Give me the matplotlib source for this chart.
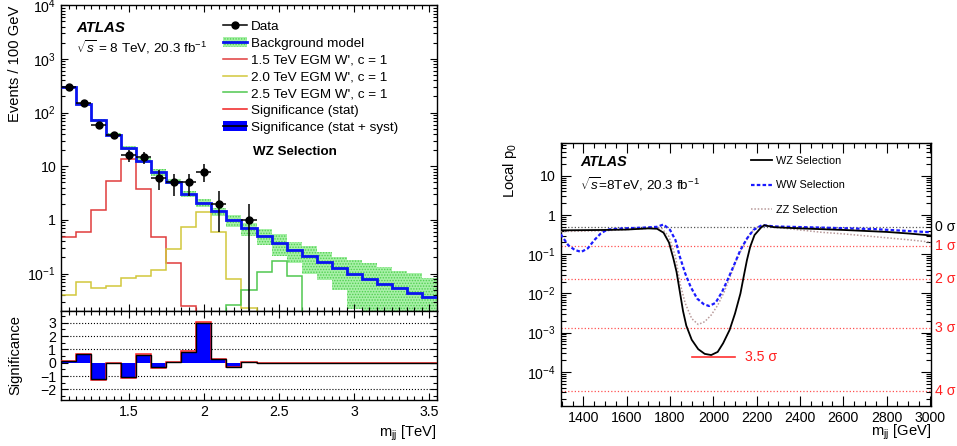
import numpy as np
import matplotlib
matplotlib.use('Agg')
import matplotlib.pyplot as plt
from matplotlib.lines import Line2D
from matplotlib.patches import Patch
from matplotlib.ticker import MultipleLocator, LogLocator, FuncFormatter, NullFormatter

plt.rcParams['font.family'] = ['Liberation Sans', 'DejaVu Sans']
plt.rcParams['mathtext.fontset'] = 'custom'
plt.rcParams['mathtext.rm'] = 'Liberation Sans'
plt.rcParams['mathtext.it'] = 'Liberation Sans:italic'
plt.rcParams['mathtext.bf'] = 'Liberation Sans:bold'
plt.rcParams['hatch.linewidth'] = 0.7
plt.rcParams['axes.linewidth'] = 1.0

# ---------------- left panel data (m_jj in TeV, 100 GeV bins) ----------------
bin_edges = [1.05, 1.15, 1.25, 1.35, 1.45, 1.55, 1.65, 1.75, 1.85, 1.95, 2.05, 2.15, 2.25,
             2.35, 2.45, 2.55, 2.65, 2.75, 2.85, 2.95, 3.05, 3.15, 3.25, 3.35, 3.45, 3.55]
data_mjj = [1.1, 1.2, 1.3, 1.4, 1.5, 1.6, 1.7, 1.8, 1.9, 2.0, 2.1, 2.2, 2.3]
data_counts = [300, 150, 60, 38, 16, 15, 6, 5, 5, 8, 2, 0, 1]
bkg_model = [300, 146, 72, 39, 22, 12.8, 7.7, 5.2, 3.1, 2.1, 1.44, 1.0, 0.70, 0.51, 0.377,
             0.275, 0.211, 0.166, 0.128, 0.10, 0.081, 0.065, 0.053, 0.044, 0.036]
bkg_rel_unc = [0.04, 0.05, 0.08, 0.07, 0.1, 0.1, 0.15, 0.1, 0.12, 0.18, 0.18, 0.26, 0.27,
               0.34, 0.43, 0.43, 0.53, 0.55, 0.62, 0.78, 0.95, 1.04, 1.14, 1.29, 1.29]
wprime_15 = [0.49, 0.6, 1.55, 5.4, 13.5, 3.8, 0.49, 0.155, 0.025, 0, 0, 0, 0,
             0, 0, 0, 0, 0, 0, 0, 0, 0, 0, 0, 0]
wprime_20 = [0.04, 0.069, 0.054, 0.06, 0.082, 0.091, 0.115, 0.29, 0.74, 1.41, 0.6, 0.08, 0.023,
             0, 0, 0, 0, 0, 0, 0, 0, 0, 0, 0, 0]
wprime_25 = [0, 0, 0, 0, 0, 0, 0, 0, 0, 0, 0, 0.026, 0.05,
             0.107, 0.17, 0.09, 0, 0, 0, 0, 0, 0, 0, 0, 0]
signif_syst = [0.12, 0.62, -1.22, 0.0, -1.05, 0.57, -0.35, 0.05, 0.82, 2.95, 0.25, -0.3, 0.05,
               0, 0, 0, 0, 0, 0, 0, 0, 0, 0, 0, 0]
signif_stat = [0.12, 0.67, -1.32, 0.0, -1.12, 0.62, -0.40, 0.05, 0.87, 3.05, 0.25, -0.33, 0.05,
               0, 0, 0, 0, 0, 0, 0, 0, 0, 0, 0, 0]

# ---------------- right panel data (m_jj in GeV, local p0) ----------------
wz_mjj = [1295, 1400, 1500, 1600, 1700, 1740, 1770, 1795, 1815, 1830, 1845, 1860, 1875, 1900,
          1930, 1960, 1990, 2020, 2045, 2075, 2100, 2125, 2140, 2155, 2170, 2190, 2220, 2235,
          2280, 2400, 2600, 2800, 2900, 3005]
wz_log_p0 = [-0.39, -0.385, -0.38, -0.37, -0.34, -0.35, -0.45, -0.70, -1.10, -1.45, -1.95, -2.45,
             -2.82, -3.18, -3.42, -3.54, -3.57, -3.49, -3.27, -2.93, -2.51, -2.0, -1.57, -1.15,
             -0.81, -0.51, -0.32, -0.26, -0.31, -0.34, -0.38, -0.43, -0.47, -0.52]
ww_mjj = [1295, 1330, 1360, 1390, 1420, 1450, 1480, 1510, 1580, 1680, 1740, 1770, 1800, 1825,
          1845, 1870, 1895, 1925, 1955, 1980, 2010, 2040, 2065, 2095, 2125, 2155, 2185, 2225,
          2280, 2500, 2750, 3005]
ww_log_p0 = [-0.49, -0.77, -0.89, -0.94, -0.85, -0.64, -0.47, -0.37, -0.34, -0.32, -0.30, -0.24,
             -0.38, -0.64, -1.06, -1.49, -1.83, -2.13, -2.27, -2.32, -2.24, -1.96, -1.66, -1.28,
             -0.89, -0.60, -0.38, -0.255, -0.29, -0.32, -0.36, -0.44]
zz_mjj = [1295, 1500, 1700, 1760, 1795, 1825, 1846, 1870, 1900, 1930, 1960, 1990, 2020, 2050,
          2080, 2110, 2140, 2170, 2200, 2230, 2300, 2400, 2500, 2600, 2700, 2800, 2900, 3005]
zz_log_p0 = [-0.42, -0.40, -0.34, -0.33, -0.55, -1.06, -1.74, -2.25, -2.64, -2.79, -2.72, -2.55,
             -2.30, -1.96, -1.53, -1.10, -0.77, -0.47, -0.31, -0.26, -0.32, -0.38, -0.44, -0.48,
             -0.53, -0.58, -0.63, -0.69]
sigma_levels = [0, 1, 2, 3, 4]
sigma_p0 = [0.5, 0.1587, 0.02275, 0.00135, 3.17e-5]
p0_35sigma = 2.33e-4
line_35sigma_mjj = [1900, 2100]

# ---------------- figure ----------------
W, H = 957, 446
fig = plt.figure(figsize=(W / 100, H / 100), dpi=100)

def frac(x0, y0, x1, y1):
    return [x0 / W, 1 - y1 / H, (x1 - x0) / W, (y1 - y0) / H]

ax1 = fig.add_axes(frac(61, 5.3, 437, 310.7))
ax2 = fig.add_axes(frac(61, 310.7, 437, 400))
ax3 = fig.add_axes(frac(560.7, 142.7, 931, 406))

def log_label(v, pos):
    e = int(round(np.log10(v)))
    if e == 0:
        return '1'
    if e == 1:
        return '10'
    return r'$10^{%d}$' % e

def style(ax, maj=5.0, mino=2.8):
    ax.tick_params(which='both', direction='in', top=True, right=True, width=0.8)
    ax.tick_params(which='major', length=maj, labelsize=10.2)
    ax.tick_params(which='minor', length=mino)

edges = np.array(bin_edges)
bkg = np.array(bkg_model)
unc = np.array(bkg_rel_unc)
band_hi = bkg * (1 + unc)
band_lo = np.maximum(bkg * (1 - unc), 1e-3)

# ---- top-left ----
ax1.set_yscale('log')
ax1.stairs(band_hi, edges, baseline=band_lo, fill=True, facecolor='#a8f0a8',
           hatch='......', edgecolor='#50d050', linewidth=0, zorder=1)
ax1.stairs(wprime_15, edges, baseline=None, color='#e03c3c', lw=1.1, zorder=2)
ax1.stairs(wprime_20, edges, baseline=None, color='#d2c83c', lw=1.1, zorder=2)
ax1.stairs(wprime_25, edges, baseline=None, color='#50c850', lw=1.1, zorder=2)
ax1.stairs(bkg, edges, baseline=None, color='#0a14f0', lw=2.0, zorder=3)
cnt = np.array(data_counts, dtype=float)
dx = np.array(data_mjj)
m = cnt > 0
ax1.errorbar(dx[m], cnt[m], yerr=np.sqrt(cnt[m]), xerr=0.05, fmt='o', color='black',
             ms=5, elinewidth=1.1, capsize=0, zorder=5)
ax1.set_xlim(1.05, 3.55)
ax1.set_ylim(0.0204, 1e4)
ax1.yaxis.set_major_locator(LogLocator(base=10, numticks=20))
ax1.yaxis.set_minor_locator(LogLocator(base=10, subs=np.arange(2, 10), numticks=20))
ax1.yaxis.set_major_formatter(FuncFormatter(log_label))
ax1.yaxis.set_minor_formatter(NullFormatter())
ax1.xaxis.set_major_locator(MultipleLocator(0.5))
ax1.xaxis.set_minor_locator(MultipleLocator(0.05))
ax1.tick_params(labelbottom=False)
style(ax1)
ax1.set_ylabel('Events / 100 GeV', fontsize=10.6, loc='top')
ax1.yaxis.set_label_coords(-0.104, 1.0)

ax1.text(0.04, 0.927, 'ATLAS', transform=ax1.transAxes, fontsize=10.8,
         fontweight='bold', fontstyle='italic', va='center', ha='left')
ax1.text(0.04, 0.862, r'$\sqrt{s}$ = 8 TeV, 20.3 fb$^{-1}$', transform=ax1.transAxes,
         fontsize=9.7, va='center', ha='left')
ax1.text(0.51, 0.520, 'WZ Selection', transform=ax1.transAxes, fontsize=9.6,
         fontweight='bold', va='center', ha='left')

h_data = Line2D([0], [0], color='black', marker='o', ms=5, lw=1.1)
h_bkg = (Patch(facecolor='#a8f0a8', hatch='......', edgecolor='#50d050', lw=0),
         Line2D([0], [0], color='#0a14f0', lw=2))
h15 = Line2D([0], [0], color='#e03c3c', lw=1.1)
h20 = Line2D([0], [0], color='#d2c83c', lw=1.1)
h25 = Line2D([0], [0], color='#50c850', lw=1.1)
hst = Line2D([0], [0], color='#f02020', lw=1.1)
hsy = (Patch(facecolor='#0000ff', edgecolor='none'), Line2D([0], [0], color='black', lw=1.2))
ax1.legend([h_data, h_bkg, h15, h20, h25, hst, hsy],
           ['Data', 'Background model', "1.5 TeV EGM W', c = 1", "2.0 TeV EGM W', c = 1",
            "2.5 TeV EGM W', c = 1", 'Significance (stat)', 'Significance (stat + syst)'],
           loc='upper left', bbox_to_anchor=(0.431, 0.951), bbox_transform=ax1.transAxes,
           frameon=False, fontsize=9.7, borderpad=0, borderaxespad=0,
           handlelength=1.78, handletextpad=0.3, labelspacing=0.31, handleheight=0.75)

# ---- bottom-left ----
ax2.stairs(signif_syst, edges, baseline=0, fill=True, color='#0000ff', lw=0, zorder=2)
ax2.stairs(signif_stat, edges, baseline=0, color='#ff2020', lw=1.1, zorder=3)
ax2.stairs(signif_syst, edges, baseline=0, color='black', lw=1.0, zorder=4)
for yv in [-2, -1, 1, 2, 3]:
    ax2.axhline(yv, color='black', ls=':', lw=0.8, zorder=1)
ax2.set_xlim(1.05, 3.55)
ax2.set_ylim(-2.8, 3.9)
ax2.xaxis.set_major_locator(MultipleLocator(0.5))
ax2.xaxis.set_minor_locator(MultipleLocator(0.05))
ax2.yaxis.set_major_locator(MultipleLocator(1))
ax2.yaxis.set_minor_locator(MultipleLocator(0.5))
style(ax2)
ax2.xaxis.set_major_formatter(FuncFormatter(lambda v, p: ('%g' % v)))
ax2.yaxis.set_major_formatter(FuncFormatter(lambda v, p: ('%d' % round(v)).replace('-', '\u2212')))
ax2.set_ylabel('Significance', fontsize=10.6)
ax2.yaxis.set_label_coords(-0.104, 0.5)
ax2.set_xlabel(r'm$_{\mathrm{jj}}$ [TeV]', fontsize=10.6, loc='right')
ax2.xaxis.set_label_coords(1.0, -0.26)

# ---- right ----
ax3.set_yscale('log')
ax3.set_xlim(1295, 3005)
ax3.set_ylim(1.35e-5, 70)
for lvl, p in zip(sigma_levels, sigma_p0):
    ax3.axhline(p, color=('#555555' if lvl == 0 else '#ff5050'), ls=':', lw=0.9, zorder=1)
    ax3.text(1.012, p, '%d \u03c3' % lvl, transform=ax3.get_yaxis_transform(),
             color=('black' if lvl == 0 else '#ff2020'), fontsize=10.2, va='center', ha='left',
             clip_on=False)
ax3.plot(line_35sigma_mjj, [p0_35sigma, p0_35sigma], color='#ff3030', lw=1.2, zorder=2)
ax3.text(2147, p0_35sigma, '3.5 \u03c3', color='#ff2020', fontsize=10.2, va='center', ha='left')
ax3.plot(zz_mjj, 10 ** np.array(zz_log_p0), color='#b89a9a', ls=(0, (1, 1.2)), lw=1.1, zorder=3)
ax3.plot(ww_mjj, 10 ** np.array(ww_log_p0), color='#1a1aff', ls=(0, (1.6, 1.0)), lw=1.6, zorder=4)
ax3.plot(wz_mjj, 10 ** np.array(wz_log_p0), color='black', lw=1.3, zorder=5)
ax3.xaxis.set_major_locator(MultipleLocator(200))
ax3.xaxis.set_minor_locator(MultipleLocator(50))
ax3.yaxis.set_major_locator(LogLocator(base=10, numticks=20))
ax3.yaxis.set_minor_locator(LogLocator(base=10, subs=np.arange(2, 10), numticks=20))
ax3.yaxis.set_major_formatter(FuncFormatter(log_label))
ax3.yaxis.set_minor_formatter(NullFormatter())
style(ax3, maj=7.0, mino=3.5)
ax3.set_ylabel(r'Local p$_{0}$', fontsize=10.6, loc='top')
ax3.yaxis.set_label_coords(-0.113, 1.0)
ax3.set_xlabel(r'm$_{\mathrm{jj}}$ [GeV]', fontsize=10.6, loc='right')
ax3.xaxis.set_label_coords(1.0, -0.065)

ax3.text(0.052, 0.928, 'ATLAS', transform=ax3.transAxes, fontsize=10.4,
         fontweight='bold', fontstyle='italic', va='center', ha='left')
ax3.text(0.052, 0.841, r'$\sqrt{s}$=8TeV, 20.3 fb$^{-1}$', transform=ax3.transAxes,
         fontsize=9.7, va='center', ha='left')
ax3.legend([Line2D([0], [0], color='black', lw=1.3),
            Line2D([0], [0], color='#1a1aff', ls=(0, (1.6, 1.0)), lw=1.6),
            Line2D([0], [0], color='#b89a9a', ls=(0, (1, 1.2)), lw=1.1)],
           ['WZ Selection', 'WW Selection', 'ZZ Selection'],
           loc='upper left', bbox_to_anchor=(0.513, 0.950), bbox_transform=ax3.transAxes,
           frameon=False, fontsize=7.8, borderpad=0, borderaxespad=0,
           handlelength=1.94, handletextpad=0.4, labelspacing=1.34)

fig.savefig('out.png', dpi=100)
